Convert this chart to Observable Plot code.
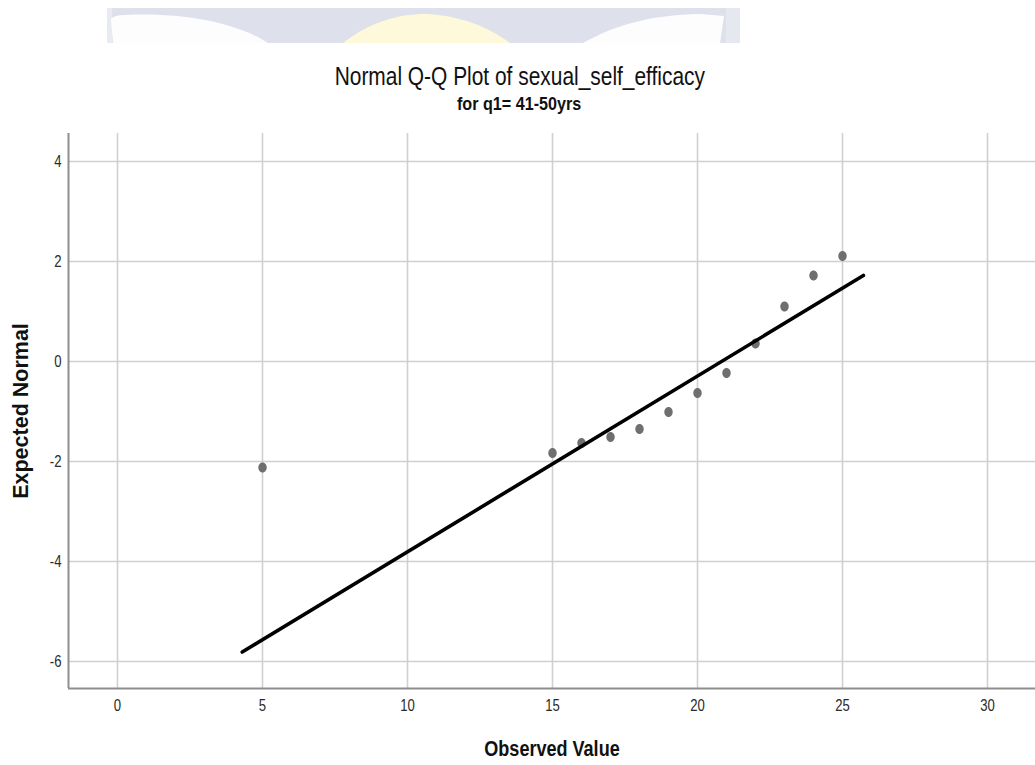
<!DOCTYPE html>
<html>
<head>
<meta charset="utf-8">
<script src="https://cdn.jsdelivr.net/npm/d3@7"></script>
<script src="https://cdn.jsdelivr.net/npm/@observablehq/plot@0.6"></script>
<style>
  body { margin: 0; background: #fff; }
  #page { position: relative; width: 1035px; height: 765px; overflow: hidden; background: #fff; }
  #crest { position: absolute; left: 0; top: 0; }
  .ttl { position: absolute; left: 2px; width: 1035px; text-align: center; color: #111;
         font-family: "Liberation Sans", Arial, sans-serif; white-space: nowrap; }
  .ttl span { display: inline-block; transform-origin: 50% 50%; }
  #title { top: 63px; font-size: 25.5px; line-height: 26px; }
  #title span { transform: scaleX(0.82); }
  #subtitle { top: 94px; font-size: 19px; line-height: 19px; font-weight: bold; }
  #subtitle span { transform: scaleX(0.85); }
  #chart { position: absolute; left: 0; top: 120px; }
</style>
</head>
<body>
<div id="page">
  <svg id="crest" width="1035" height="50">
    <defs><clipPath id="band"><rect x="107" y="8" width="633" height="35"></rect></clipPath></defs>
    <g clip-path="url(#band)">
      <rect x="107" y="8" width="633" height="35" fill="#dee1eb"></rect>
      <rect x="107" y="8" width="5" height="35" fill="#e9ebf2"></rect>
      <path d="M113,43 L111,19 Q114,15 125,15 C190,12 240,25 268,43 Z" fill="#fdfdfe"></path>
      <path d="M343,43 C370,22 398,14 425,14 C460,15 490,28 510,43 Z" fill="#fdf9da"></path>
      <path d="M583,43 C615,25 650,15 700,14 L724,16 L720,43 Z" fill="#fdfdfe"></path>
      <rect x="726" y="8" width="14" height="35" fill="#e6e8f0"></rect>
    </g>
  </svg>
  <div id="title" class="ttl"><span>Normal Q-Q Plot of sexual_self_efficacy</span></div>
  <div id="subtitle" class="ttl"><span>for q1= 41-50yrs</span></div>
  <div id="chart"></div>
</div>
<script>
// Observed values and their expected normal scores
const observed = [5, 15, 16, 17, 18, 19, 20, 21, 22, 23, 24, 25];
const expectedNormal = [-2.12, -1.83, -1.63, -1.51, -1.35, -1.01, -0.63, -0.23, 0.36, 1.10, 1.72, 2.11];

// Reference line endpoints (observed, expected)
const refObserved = [4.3, 25.72];
const refExpected = [-5.81, 1.72];

// Axis ticks and labels
const xTicks = [0, 5, 10, 15, 20, 25, 30];
const yTicks = [-6, -4, -2, 0, 2, 4];
const xDomain = [-1.69, 31.655];
const yDomain = [-6.54, 4.56];
const xLabel = "Observed Value";
const yLabel = "Expected Normal";

const points = observed.map((x, i) => ({x, y: expectedNormal[i]}));
const refLine = refObserved.map((x, i) => ({x, y: refExpected[i]}));

// Slightly tall elliptical marker
const ellipseSymbol = {
  draw(context, size) {
    const r = Math.sqrt(size / Math.PI);
    const rx = r * 0.84, ry = r, k = 0.5523;
    context.moveTo(rx, 0);
    context.bezierCurveTo(rx, ry * k, rx * k, ry, 0, ry);
    context.bezierCurveTo(-rx * k, ry, -rx, ry * k, -rx, 0);
    context.bezierCurveTo(-rx, -ry * k, -rx * k, -ry, 0, -ry);
    context.bezierCurveTo(rx * k, -ry, rx, -ry * k, rx, 0);
    context.closePath();
  }
};

const sans = '"Liberation Sans", Arial, sans-serif';
const fmt = d => String(d);

const chart = Plot.plot({
  width: 1035,
  height: 645,
  marginTop: 13,
  marginBottom: 77,
  marginLeft: 68,
  marginRight: 0,
  style: {fontFamily: sans, fontSize: "16px", color: "#2a2a2a", background: "transparent"},
  x: {domain: xDomain},
  y: {domain: yDomain},
  marks: [
    Plot.gridX(xTicks, {stroke: "#d0d0d0", strokeOpacity: 1, strokeWidth: 1.6}),
    Plot.gridY(yTicks, {stroke: "#d0d0d0", strokeOpacity: 1, strokeWidth: 1.6}),
    Plot.ruleX([xDomain[0]], {stroke: "#8e8e8e", strokeWidth: 2}),
    Plot.ruleY([yDomain[0]], {stroke: "#8e8e8e", strokeWidth: 2}),
    Plot.axisX(xTicks, {tickSize: 0, tickPadding: 11, label: null, fontSize: 16, tickFormat: fmt}),
    Plot.axisY(yTicks, {tickSize: 0, tickPadding: 7, label: null, fontSize: 16, tickFormat: fmt}),
    Plot.dot(points, {x: "x", y: "y", r: 5, symbol: ellipseSymbol, fill: "#6f6f6f", stroke: "none"}),
    Plot.line(refLine, {x: "x", y: "y", stroke: "#000", strokeWidth: 3.6}),
    Plot.text([xLabel], {text: d => d, frameAnchor: "bottom", textAnchor: "middle", lineAnchor: "middle", dy: 60,
      fontSize: 22, fontWeight: "bold", fill: "#111"}),
    Plot.text([yLabel], {text: d => d, frameAnchor: "left", textAnchor: "middle", lineAnchor: "middle", dx: -47, rotate: -90,
      fontSize: 21.5, fontWeight: "bold", fill: "#111"})
  ]
});
document.getElementById("chart").appendChild(chart);

// Horizontal labels are set in a condensed width
const condensed = new Set([xLabel, ...xTicks.map(fmt), ...yTicks.map(fmt)]);
chart.querySelectorAll("text").forEach(t => {
  if (!condensed.has(t.textContent)) return;
  const w = t.getComputedTextLength();
  t.setAttribute("textLength", (w * 0.82).toFixed(2));
  t.setAttribute("lengthAdjust", "spacingAndGlyphs");
});
</script>
</body>
</html>
